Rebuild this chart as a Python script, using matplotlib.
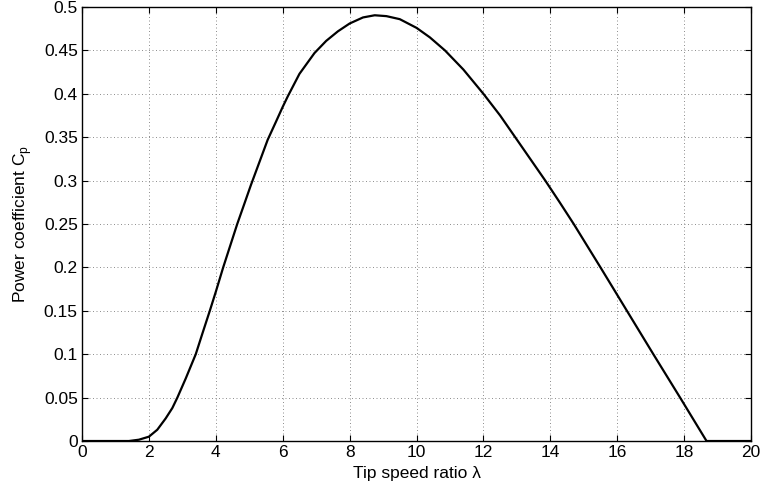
import matplotlib
matplotlib.use("Agg")
import matplotlib.pyplot as plt
import numpy as np

# tip speed ratio and power coefficient
tsr = [0.0, 1.0, 1.4, 1.7, 2.0, 2.25, 2.5, 2.7, 2.85, 3.1, 3.4, 3.6, 3.82,
       4.0, 4.22, 4.43, 4.64, 4.85, 5.05, 5.3, 5.55, 5.8, 6.0, 6.15, 6.5,
       6.95, 7.3, 7.65, 8.0, 8.4, 8.75, 9.1, 9.5, 10.0, 10.4, 10.85, 11.4,
       12.0, 12.5, 12.95, 13.4, 13.85, 14.28, 14.7, 15.1, 15.5, 16.29, 17.08,
       17.88, 18.67, 20.0]
cp = [0.0, 0.0, 0.0, 0.0015, 0.005, 0.013, 0.026, 0.038, 0.05, 0.072, 0.1,
      0.124, 0.15, 0.172, 0.2, 0.225, 0.25, 0.273, 0.295, 0.321, 0.347,
      0.368, 0.385, 0.397, 0.423, 0.447, 0.461, 0.472, 0.481, 0.488, 0.4905,
      0.4895, 0.486, 0.476, 0.465, 0.45, 0.428, 0.4, 0.375, 0.35, 0.325, 0.3,
      0.275, 0.25, 0.225, 0.2, 0.15, 0.1, 0.05, 0.0, 0.0]

xticks = np.arange(0, 21, 2)
yticks = np.arange(0, 0.501, 0.05)

plt.rcParams["font.family"] = ["Liberation Sans", "DejaVu Sans"]
plt.rcParams["mathtext.fontset"] = "custom"
plt.rcParams["mathtext.rm"] = "Liberation Sans"

fig = plt.figure(figsize=(7.63, 4.91), dpi=100)
ax = fig.add_axes([0.1075, 0.1018, 0.8768, 0.8839])
ax.plot(tsr, cp, color="black", lw=1.6)

ax.set_xlim(0, 20)
ax.set_ylim(0, 0.5)
ax.set_xticks(xticks)
ax.set_yticks(yticks)
ax.set_xticklabels([f"{v:g}" for v in xticks])
ax.set_yticklabels([f"{round(v, 2):g}" for v in yticks])
ax.tick_params(direction="in", length=4, width=0.8, top=True, right=True,
               labelsize=12.5, pad=3)
ax.grid(True, color="#8c8c8c", lw=0.7, ls=(0, (1, 2.6)))
ax.set_axisbelow(True)
for s in ax.spines.values():
    s.set_linewidth(1.0)

ax.set_xlabel("Tip speed ratio λ", fontsize=12.5, labelpad=4)
ax.set_ylabel(r"Power coefficient C$_\mathrm{p}$", fontsize=12.5, labelpad=7)

fig.savefig("out.png", dpi=100)
